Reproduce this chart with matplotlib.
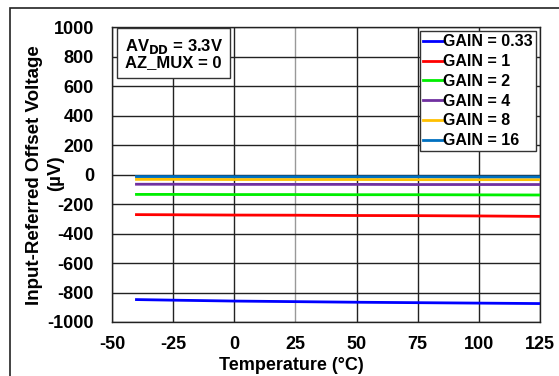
import matplotlib
matplotlib.use("Agg")
import matplotlib.pyplot as plt
from matplotlib.patches import Rectangle

plt.rcParams["font.family"] = ["Liberation Sans", "DejaVu Sans"]
plt.rcParams["font.weight"] = "bold"
plt.rcParams["axes.unicode_minus"] = False
plt.rcParams["mathtext.default"] = "bf"

temps = [-40, -25, 0, 25, 50, 75, 100, 125]
gain_labels = ["GAIN = 0.33", "GAIN = 1", "GAIN = 2", "GAIN = 4", "GAIN = 8", "GAIN = 16"]
offset_g033 = [-848, -852, -858, -862, -866, -869, -872, -875]
offset_g1 = [-272, -273, -275, -276, -278, -279, -281, -284]
offset_g2 = [-135, -135, -136, -136, -137, -137, -138, -139]
offset_g4 = [-66, -66, -67, -67, -67, -68, -68, -68]
offset_g8 = [-33, -33, -34, -34, -34, -35, -35, -35]
offset_g16 = [-14, -14, -15, -15, -15, -15, -16, -16]
series = [offset_g033, offset_g1, offset_g2, offset_g4, offset_g8, offset_g16]
colors = ["#0000ff", "#ff0000", "#00ee00", "#7030a0", "#ffc000", "#0070c0"]

W, H = 559, 376
fig = plt.figure(figsize=(W / 100, H / 100), dpi=100)
ax = fig.add_axes([112 / W, 1 - 322 / H, 428 / W, 295 / H])

# outer frame around whole chart
fig.patches.append(Rectangle((10 / W, -0.1), 1.2, 1 - 8 / H + 0.1,
                             transform=fig.transFigure, fill=False,
                             edgecolor="#222222", linewidth=1.2, clip_on=False))

for vals, col, lab in zip(series, colors, gain_labels):
    ax.plot(temps, vals, color=col, linewidth=2.0, label=lab, zorder=3)

ax.set_xlim(-50, 125)
ax.set_ylim(-1000, 1000)
ax.set_xticks(range(-50, 126, 25))
ax.set_yticks(range(-1000, 1001, 200))
ax.tick_params(length=0, labelsize=13)
ax.tick_params(axis="y", pad=13)
ax.tick_params(axis="x", pad=10)
for lbl in ax.get_xticklabels() + ax.get_yticklabels():
    lbl.set_fontweight("bold")

ax.grid(True, color="#222222", linewidth=1.0)
for gl, xv in zip(ax.get_xgridlines(), range(-50, 126, 25)):
    if xv == 25:
        gl.set_color("#999999")
for sp in ax.spines.values():
    sp.set_color("#222222")
    sp.set_linewidth(1.0)

ax.set_xlabel("Temperature (°C)", fontsize=13, fontweight="bold")
ax.xaxis.set_label_coords(0.42, -0.12)

# y label as two separate rotated lines
fig.text(35 / W, 1 - 175 / H, "Input-Referred Offset Voltage", rotation=90,
         ha="center", va="center", fontsize=13.5, fontweight="bold")
fig.text(56 / W, 1 - 173 / H, "(µV)", rotation=90,
         ha="center", va="center", fontsize=13.5, fontweight="bold")

ax.text(0.144, 0.966, "AV$_{DD}$ = 3.3V\nAZ_MUX = 0", transform=ax.transAxes,
        fontsize=12, fontweight="bold", ha="center", va="top", linespacing=0.95,
        bbox=dict(boxstyle="square,pad=0.45", facecolor="white", edgecolor="#333333",
                  linewidth=1.0), zorder=5)

leg = ax.legend(loc="upper right", bbox_to_anchor=(0.99, 0.986),
                prop={"weight": "bold", "size": 11.5}, handlelength=1.25,
                handletextpad=0.0, labelspacing=0.3, borderpad=0.2,
                borderaxespad=0.0, fancybox=False, framealpha=1, edgecolor="#333333")
leg.get_frame().set_linewidth(1.0)

fig.savefig("out.png", dpi=100)
plt.close(fig)
